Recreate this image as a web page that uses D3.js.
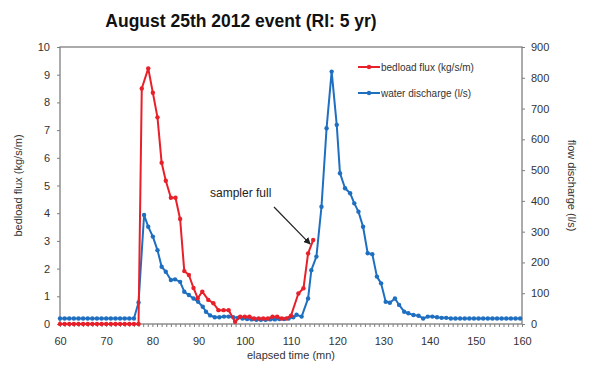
<!DOCTYPE html>
<html><head><meta charset="utf-8">
<script src="https://cdn.jsdelivr.net/npm/d3@7"></script>
<style>body{margin:0;background:#fff}svg{display:block}text{font-family:"Liberation Sans",Arial,sans-serif}</style>
</head><body><svg id="c" width="592" height="367"></svg>
<script>
const title = "August 25th 2012 event (RI: 5 yr)";
const xTicks = [60,70,80,90,100,110,120,130,140,150,160];
const leftTicks = [0,1,2,3,4,5,6,7,8,9,10];
const rightTicks = [0,100,200,300,400,500,600,700,800,900];
// bedload flux (kg/s/m)
const fluxTime = [60,61,62,63,64,65,66,67,68,69,70,71,72,73,74,75,76,77,77.7,79.1,80.1,81.1,82,82.9,84,85,86,86.9,87.9,88.9,89.8,90.8,92.1,93.2,94.3,95.4,96.5,97.9,99,100,101,102,103,104,105,106,107,108,109,110,111.6,112.7,113.7,114.8];
const fluxValue = [0,0,0,0,0,0,0,0,0,0,0,0,0,0,0,0,0,0,8.5,9.23,8.35,7.46,5.82,5.17,4.56,4.56,3.79,1.91,1.77,1.3,0.93,1.17,0.87,0.75,0.5,0.5,0.5,0.08,0.26,0.26,0.26,0.2,0.2,0.2,0.2,0.26,0.26,0.2,0.2,0.3,1.1,1.29,2.55,3.03];
// water discharge (l/s)
const qTime = [60,61,62,63,64,65,66,67,68,69,70,71,72,73,74,75,76,77,78.2,79.1,80.1,81.1,82,82.9,84,84.9,86,86.9,87.9,88.9,89.9,90.9,91.6,92.5,93.5,94.5,95.5,96.5,97.5,98.5,99.5,100.5,101.5,102.5,103.5,104.5,105.5,106.5,107.5,108.5,109.5,110.5,111.2,112.3,113.7,114.4,115.5,116.6,117.7,118.8,119.9,120.6,121.7,122.8,123.7,124.6,125.6,126.6,127.6,128.6,129.5,130.5,131.4,132.5,133.4,134.5,135.4,136.5,137.6,138.6,139.6,140.6,141.6,142.6,143.6,144.6,145.6,146.6,147.6,148.6,149.6,150.6,151.6,152.6,153.6,154.6,155.6,156.6,157.6,158.6,159.6];
const qValue = [18,18,18,18,18,18,18,18,18,18,18,18,18,18,18,18,18,70,354,316,284,240,186,170,143,145,137,105,94,83,72,56,40,28,22,22,24,24,22,20,18,16,15,14,14,14,15,15,16,16,18,22,30,24,83,175,219,381,636,820,647,490,441,425,392,365,316,230,227,154,132,72,69,83,62,40,35,29,27,18,24,24,22,20,20,18,18,18,18,18,18,18,18,18,18,18,18,18,18,18,18];
const seriesNames = ["bedload flux (kg/s/m)","water discharge (l/s)"];

const svg = d3.select("#c");
const m = {l:60, r:522, t:47, b:324};
const x = d3.scaleLinear().domain([60,160]).range([m.l,m.r]);
const yL = d3.scaleLinear().domain([0,10]).range([m.b,m.t]);
const yR = d3.scaleLinear().domain([0,900]).range([m.b,m.t]);
const red = "#e8202a", blue = "#1f6fc1", axisCol = "#7f7f7f", txt = "#333";

svg.append("text").attr("x",241).attr("y",27).attr("text-anchor","middle")
  .style("font-size","17.5px").style("font-weight","bold").attr("fill","#111").text(title);

// x axis
const xa = svg.append("g").attr("transform",`translate(0,${m.b})`)
  .call(d3.axisBottom(x).tickValues(d3.range(60,161,1)).tickSize(3).tickFormat(""));
xa.select(".domain").remove();
xa.selectAll("line").attr("stroke",axisCol);
const xl = svg.append("g").attr("transform",`translate(0,${m.b})`)
  .call(d3.axisBottom(x).tickValues(xTicks).tickSize(0).tickPadding(13));
xl.select(".domain").remove();
xl.selectAll("text").style("font-size","11px").attr("fill",txt);

const la = svg.append("g").attr("transform",`translate(${m.l},0)`)
  .call(d3.axisLeft(yL).tickValues(leftTicks).tickSize(3).tickPadding(7));
la.select(".domain").remove();
la.selectAll("line").attr("stroke",axisCol);
la.selectAll("text").style("font-size","11px").attr("fill",txt);

const ra = svg.append("g").attr("transform",`translate(${m.r},0)`)
  .call(d3.axisRight(yR).tickValues(rightTicks).tickSize(3).tickPadding(6));
ra.select(".domain").remove();
ra.selectAll("line").attr("stroke",axisCol);
ra.selectAll("text").style("font-size","11px").attr("fill",txt);

svg.append("rect").attr("x",m.l).attr("y",m.t).attr("width",m.r-m.l).attr("height",m.b-m.t)
  .attr("fill","none").attr("stroke",axisCol).attr("stroke-width",1.3);

svg.append("text").attr("transform",`translate(22,${(m.t+m.b)/2}) rotate(-90)`).attr("text-anchor","middle")
  .style("font-size","11px").attr("fill",txt).text("bedload flux (kg/s/m)");
svg.append("text").attr("transform",`translate(568,${(m.t+m.b)/2}) rotate(90)`).attr("text-anchor","middle")
  .style("font-size","11px").attr("fill",txt).text("flow discharge (l/s)");
svg.append("text").attr("x",(m.l+m.r)/2).attr("y",359).attr("text-anchor","middle")
  .style("font-size","11px").attr("fill",txt).text("elapsed time (mn)");

const qData = qTime.map((t,i)=>({t, v:qValue[i]}));
const fData = fluxTime.map((t,i)=>({t, v:fluxValue[i]}));

function drawSeries(data, yS, col){
  svg.append("path").datum(data).attr("fill","none").attr("stroke",col).attr("stroke-width",2)
    .attr("stroke-linejoin","round")
    .attr("d", d3.line().x(d=>x(d.t)).y(d=>yS(d.v)));
  svg.append("g").selectAll("circle").data(data).join("circle")
    .attr("cx",d=>x(d.t)).attr("cy",d=>yS(d.v)).attr("r",2.2).attr("fill",col);
}
drawSeries(qData, yR, blue);
drawSeries(fData, yL, red);

// legend
const leg = [{n:seriesNames[0], c:red, y:67},{n:seriesNames[1], c:blue, y:93}];
leg.forEach(l=>{
  svg.append("line").attr("x1",358).attr("x2",380).attr("y1",l.y).attr("y2",l.y).attr("stroke",l.c).attr("stroke-width",2);
  svg.append("circle").attr("cx",369).attr("cy",l.y).attr("r",2.2).attr("fill",l.c);
  svg.append("text").attr("x",381).attr("y",l.y+3.5).style("font-size","10px").attr("fill",txt).text(l.n);
});

// annotation
svg.append("defs").append("marker").attr("id","ah").attr("viewBox","0 0 10 10").attr("refX",9).attr("refY",5)
  .attr("markerWidth",6).attr("markerHeight",6).attr("orient","auto")
  .append("path").attr("d","M0,0L10,5L0,10z").attr("fill","#222");
svg.append("text").attr("x",210).attr("y",197).style("font-size","12px").attr("fill","#222").text("sampler full");
const last = fData[fData.length-1];
svg.append("line").attr("x1",274).attr("y1",207).attr("x2",x(last.t)-3).attr("y2",yL(last.v)+4)
  .attr("stroke","#222").attr("stroke-width",1.2).attr("marker-end","url(#ah)");
</script></body></html>
